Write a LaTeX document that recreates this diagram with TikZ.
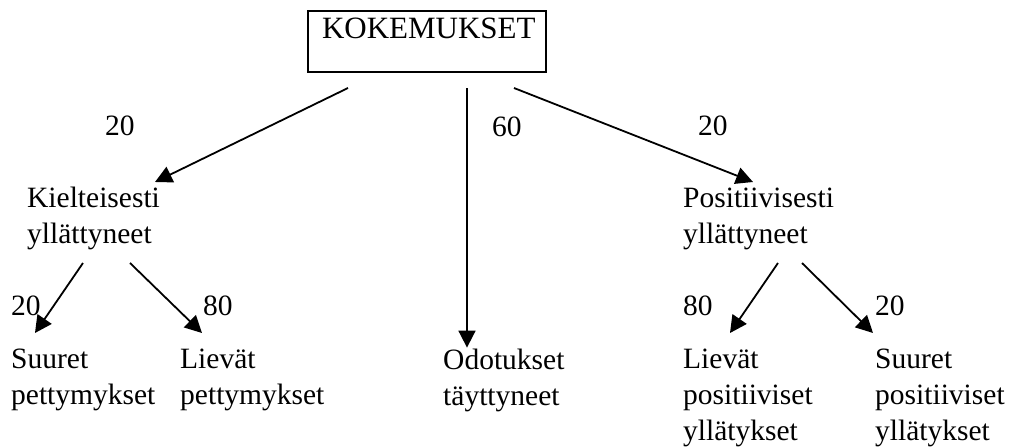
\documentclass[tikz,border=0pt]{standalone}
\usepackage{fontspec}
\setmainfont{Liberation Serif}
\usetikzlibrary{arrows.meta}

\newcommand{\lines}[1]{\begin{tabular}[t]{@{}l@{}}#1\end{tabular}}

\tikzset{
  txt/.style={font=\fontsize{29.5}{36}\selectfont, inner sep=0pt, anchor=base west},
  num/.style={font=\fontsize{29.5}{36}\selectfont, inner sep=0pt, anchor=base west},
  arr/.style={line width=1.8pt, -{Triangle[length=17pt,width=17pt]}},
  topbox/.style={draw, line width=2pt, anchor=north west, inner xsep=14pt, inner ysep=0pt,
    text width=210pt, text height=27pt, text depth=34pt, align=left,
    font=\fontsize{31}{36}\selectfont}
}

\begin{document}
\begin{tikzpicture}[x=1pt, y=-1pt]
\useasboundingbox (0,0) rectangle (1013,447);

% root
\node[topbox] (kok) at (307,10) {KOKEMUKSET};

% second level
\node[txt] (kiel) at (27,207)  {\lines{Kielteisesti\\ yllättyneet}};
\node[txt] (odot) at (443,369) {\lines{Odotukset\\ täyttyneet}};
\node[txt] (posi) at (683,207) {\lines{Positiivisesti\\ yllättyneet}};

% third level
\node[txt] (suurp) at (11,368)  {\lines{Suuret\\ pettymykset}};
\node[txt] (lievp) at (180,368) {\lines{Lievät\\ pettymykset}};
\node[txt] (lievy) at (683,368) {\lines{Lievät\\ positiiviset\\ yllätykset}};
\node[txt] (suury) at (875,368) {\lines{Suuret\\ positiiviset\\ yllätykset}};

% percentages
\node[num] (p1) at (105,135) {20};
\node[num] (p2) at (492,136) {60};
\node[num] (p3) at (698,135) {20};
\node[num] (p4) at (11,315)  {20};
\node[num] (p5) at (203,315) {80};
\node[num] (p6) at (683,315) {80};
\node[num] (p7) at (875,315) {20};

% connectors
\coordinate (mid) at ([shift={(40,15)}]kok.south);
\coordinate (otip) at ([yshift=-4pt]odot.north);
\draw[arr] ([shift={(-79,15)}]kok.south) -- ([shift={(128,-25)}]kiel.base west);
\draw[arr] (mid) -- (mid |- otip);
\draw[arr] ([shift={(87,15)}]kok.south)  -- ([shift={(70,-25)}]posi.base west);

\draw[arr] ([shift={(56,56)}]kiel.base west)  -- ([shift={(24,-35)}]suurp.base west);
\draw[arr] ([shift={(103,56)}]kiel.base west) -- ([shift={(22,-35)}]lievp.base west);

\draw[arr] ([shift={(95,56)}]posi.base west)  -- ([shift={(47,-35)}]lievy.base west);
\draw[arr] ([shift={(119,56)}]posi.base west) -- ([shift={(-2,-35)}]suury.base west);
\end{tikzpicture}
\end{document}
